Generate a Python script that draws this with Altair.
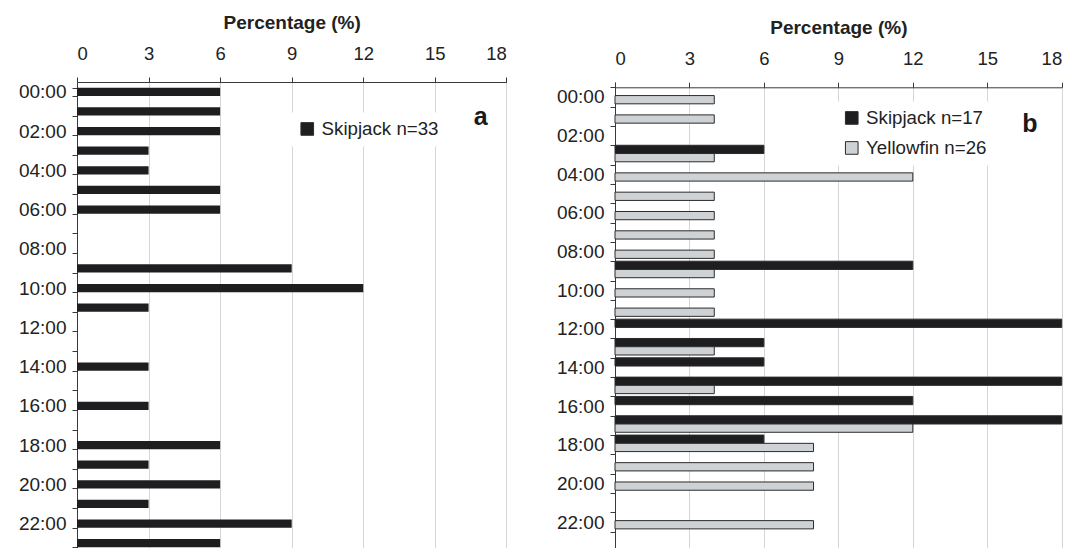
import altair as alt
import pandas as pd

hours = ["00:00", "01:00", "02:00", "03:00", "04:00", "05:00", "06:00", "07:00",
         "08:00", "09:00", "10:00", "11:00", "12:00", "13:00", "14:00", "15:00",
         "16:00", "17:00", "18:00", "19:00", "20:00", "21:00", "22:00", "23:00"]
labeled_hours = ["00:00", "02:00", "04:00", "06:00", "08:00", "10:00",
                 "12:00", "14:00", "16:00", "18:00", "20:00", "22:00"]
x_ticks = [0, 3, 6, 9, 12, 15, 18]

skipjack_a = [6, 6, 6, 3, 3, 6, 6, 0, 0, 9, 12, 3, 0, 0, 3, 0, 3, 0, 6, 3, 6, 3, 9, 6]
skipjack_b = [0, 0, 0, 6, 0, 0, 0, 0, 0, 12, 0, 0, 18, 6, 6, 18, 12, 18, 6, 0, 0, 0, 0, 0]
yellowfin_b = [4, 4, 0, 4, 12, 4, 4, 4, 4, 4, 4, 4, 0, 4, 0, 4, 0, 12, 8, 8, 8, 0, 8, 0]

series_a = ["Skipjack n=33"]
series_b = ["Skipjack n=17", "Yellowfin n=26"]

BLACK = "#1e1e20"
GRAY = "#cfd2d4"
EDGE = "#2b2b2b"
FONT = "Liberation Sans"

label_expr = "indexof([" + ",".join("'" + h + "'" for h in labeled_hours) + \
             "], datum.value) >= 0 ? datum.value : ''"

# ---------- panel a ----------
dfa = pd.DataFrame({"hour": hours, "pct": skipjack_a, "sp_a": series_a[0]})
dfa = dfa[dfa["pct"] > 0]

xa = alt.X("pct:Q", scale=alt.Scale(domain=[0, 18], nice=False, zero=True),
           axis=alt.Axis(orient="top", values=x_ticks, title="Percentage (%)",
                         labelPadding=13.5, titlePadding=12.5, format="d"))
ya = alt.Y("hour:N", scale=alt.Scale(domain=hours, paddingInner=0.577, paddingOuter=0.2885),
           axis=alt.Axis(title=None, tickBand="extent", labelExpr=label_expr,
                         labelPadding=6, grid=False, labelOverlap=False, labelFontSize=19))

bars_a = alt.Chart(dfa).mark_bar().encode(
    x=xa, y=ya,
    color=alt.Color("sp_a:N", scale=alt.Scale(domain=series_a, range=[BLACK]),
                    legend=alt.Legend(title=None, orient="none", legendX=213.9, legendY=30.6,
                                      fillColor="white", padding=7, symbolType="square",
                                      symbolSize=160, symbolStrokeColor=EDGE,
                                      symbolStrokeWidth=1, labelFontSize=18.7,
                                      labelFont=FONT, labelColor="#222", labelOffset=5)),
)
tag_a = alt.Chart(pd.DataFrame({"t": ["a"]})).mark_text(
    font=FONT, fontWeight="bold", fontSize=25, color="#1a1a1a", baseline="alphabetic",
    align="center").encode(text="t:N", x=alt.value(403.7), y=alt.value(43))

panel_a = alt.layer(bars_a, tag_a).properties(width=429.4, height=471)

# ---------- panel b ----------
dfb = pd.concat([
    pd.DataFrame({"hour": hours, "pct": skipjack_b, "sp_b": series_b[0]}),
    pd.DataFrame({"hour": hours, "pct": yellowfin_b, "sp_b": series_b[1]}),
])
dfb = dfb[dfb["pct"] > 0]

xb = alt.X("pct:Q", scale=alt.Scale(domain=[0, 18], nice=False, zero=True),
           axis=alt.Axis(orient="top", values=x_ticks, title="Percentage (%)",
                         labelPadding=13.5, titlePadding=12.5, offset=-5.3, format="d"))
yb = alt.Y("hour:N", scale=alt.Scale(domain=hours, paddingInner=0, paddingOuter=0.1374,
                                     align=1),
           axis=alt.Axis(title=None, tickBand="extent", labelExpr=label_expr,
                         labelPadding=6, grid=False, labelOverlap=False, labelFontSize=19))

bars_b = alt.Chart(dfb).mark_bar(stroke=EDGE, strokeWidth=1).encode(
    x=xb, y=yb,
    yOffset=alt.YOffset("sp_b:N", sort=series_b,
                        scale=alt.Scale(paddingInner=0, paddingOuter=0.17, align=0)),
    color=alt.Color("sp_b:N", scale=alt.Scale(domain=series_b, range=[BLACK, GRAY]),
                    legend=alt.Legend(title=None, orient="none", legendX=220.4, legendY=19.6,
                                      fillColor="white", padding=7, symbolType="square",
                                      symbolSize=160, symbolStrokeColor=EDGE,
                                      symbolStrokeWidth=1, labelFontSize=18.7,
                                      labelFont=FONT, labelColor="#222", labelOffset=5,
                                      rowPadding=10)),
)
tag_b = alt.Chart(pd.DataFrame({"t": ["b"]})).mark_text(
    font=FONT, fontWeight="bold", fontSize=25, color="#1a1a1a", baseline="alphabetic",
    align="center").encode(text="t:N", x=alt.value(415), y=alt.value(50))

panel_b = alt.layer(bars_b, tag_b).properties(width=446.7, height=469)

chart = alt.hconcat(panel_a, panel_b, spacing=49).resolve_scale(
    x="independent", y="independent", color="independent", yOffset="independent"
).resolve_legend(color="independent").properties(
    padding={"left": 10, "top": 5, "right": 0, "bottom": 0}
).configure_view(strokeWidth=0).configure_axis(
    domainColor="#3a3a3a", domainWidth=1, tickColor="#3a3a3a", tickSize=5, tickWidth=1,
    gridColor="#d6d6d6", gridWidth=1,
    labelFont=FONT, labelFontSize=18.5, labelColor="#222",
    titleFont=FONT, titleFontSize=19, titleFontWeight="bold", titleColor="#222",
)

chart.save("out.html", embed_options={"renderer": "svg", "actions": False})
